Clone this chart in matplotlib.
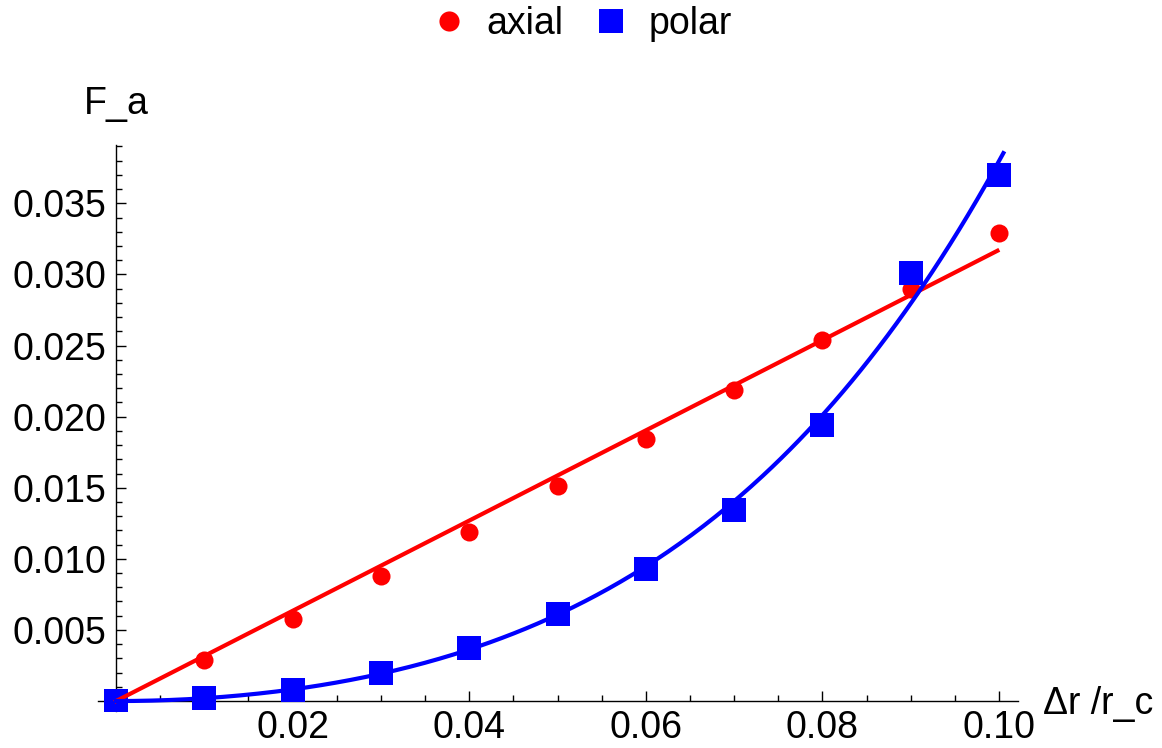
import numpy as np
import matplotlib
matplotlib.use('Agg')
import matplotlib.pyplot as plt
from matplotlib.ticker import MultipleLocator
from matplotlib.lines import Line2D

plt.rcParams['font.family'] = ['Liberation Sans', 'DejaVu Sans']

# data
dr = [0.0, 0.01, 0.02, 0.03, 0.04, 0.05, 0.06, 0.07, 0.08, 0.09, 0.10]
axial = [0.0, 0.00288, 0.00575, 0.00877, 0.0119, 0.01515, 0.01844, 0.0219, 0.0254, 0.0290, 0.0329]
polar = [0.0, 0.0002, 0.0008, 0.00196, 0.0037, 0.0061, 0.0093, 0.01346, 0.0194, 0.0301, 0.0370]

x_ticks = [0.02, 0.04, 0.06, 0.08, 0.10]
x_labels = ['0.02', '0.04', '0.06', '0.08', '0.10']
y_ticks = [0.005, 0.010, 0.015, 0.020, 0.025, 0.030, 0.035]
y_labels = ['0.005', '0.010', '0.015', '0.020', '0.025', '0.030', '0.035']

x = np.array(dr)
# least squares fits like the ones drawn in the original
a_lin = np.linalg.lstsq(x[:, None], np.array(axial), rcond=None)[0]
A = np.column_stack([x**2, x**4])
c_pol = np.linalg.lstsq(A, np.array(polar), rcond=None)[0]
xs = np.linspace(0, 0.1005, 300)

fs = 27
fig = plt.figure(figsize=(11.62, 7.48), dpi=100)
ax = fig.add_axes([97.5 / 1162, 37 / 748, 920 / 1162, 566 / 748])

ax.plot(dr, axial, 'o', color='red', ms=13, mew=0, zorder=2)
ax.plot(dr, polar, 's', color='blue', ms=17, mew=0, zorder=3)
ax.plot(xs[xs <= 0.1], a_lin[0] * xs[xs <= 0.1], color='red', lw=3, zorder=4)
ax.plot(xs, c_pol[0] * xs**2 + c_pol[1] * xs**4, color='blue', lw=3, zorder=5)

ax.set_xlim(-0.0021, 0.1021)
ax.set_ylim(-0.0007, 0.0391)

for s in ['top', 'right']:
    ax.spines[s].set_visible(False)
ax.spines['left'].set_position(('data', 0))
ax.spines['bottom'].set_position(('data', 0))
for s in ['left', 'bottom']:
    ax.spines[s].set_linewidth(1.0)

ax.set_xticks(x_ticks, x_labels)
ax.set_yticks(y_ticks, y_labels)
ax.xaxis.set_minor_locator(MultipleLocator(0.005))
ax.yaxis.set_minor_locator(MultipleLocator(0.001))
ax.tick_params(axis='both', which='major', direction='in', length=7.5, width=1.0, labelsize=fs)
ax.tick_params(axis='both', which='minor', direction='in', length=4, width=1.0)
ax.tick_params(axis='x', which='major', pad=6.5)
ax.tick_params(axis='y', which='major', pad=7)

fig.text(116 / 1162, 1 - 104 / 748, 'F_a', fontsize=fs, ha='center', va='center')
fig.text(1043 / 1162, 1 - 704 / 748, 'Δr /r_c', fontsize=fs, ha='left', va='center')

handles = [Line2D([], [], ls='none', marker='o', color='red', ms=14.5, mew=0),
           Line2D([], [], ls='none', marker='s', color='blue', ms=17, mew=0)]
fig.legend(handles, ['axial', 'polar'], loc='center', bbox_to_anchor=(0.5, 1 - 24 / 748),
           ncol=2, frameon=False, fontsize=fs, handlelength=1.0, handletextpad=0.5,
           columnspacing=0.75)

fig.savefig('out.png', dpi=100)
